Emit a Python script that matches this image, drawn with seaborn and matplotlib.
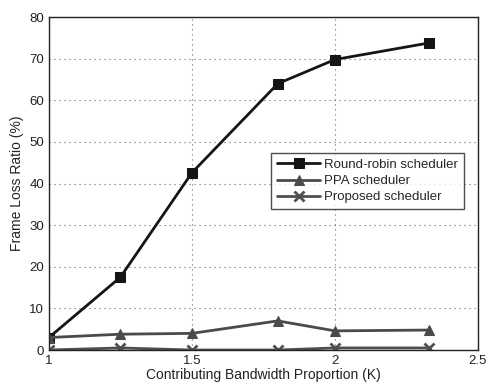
import matplotlib
matplotlib.use("Agg")
import matplotlib.pyplot as plt
import seaborn as sns
import pandas as pd

k_values = [1.0, 1.25, 1.5, 1.8, 2.0, 2.33]
round_robin = [3.0, 17.5, 42.6, 64.0, 69.8, 73.8]
ppa = [3.0, 3.8, 4.0, 7.0, 4.6, 4.8]
proposed = [0.0, 0.5, 0.0, 0.0, 0.5, 0.5]
series_names = ["Round-robin scheduler", "PPA scheduler", "Proposed scheduler"]

df = pd.DataFrame({
    "K": k_values * 3,
    "ratio": round_robin + ppa + proposed,
    "series": [series_names[0]] * len(k_values) + [series_names[1]] * len(k_values) + [series_names[2]] * len(k_values),
})

sns.set_style("white")
plt.rcParams['font.family'] = ['Liberation Sans', 'DejaVu Sans']

fig = plt.figure(figsize=(4.89, 3.84), dpi=100)
ax = fig.add_axes([0.100, 0.0885, 0.8775, 0.867])

palette = {series_names[0]: "#151515", series_names[1]: "#4a4a4a", series_names[2]: "#4f4f4f"}
markers = {series_names[0]: "s", series_names[1]: "^", series_names[2]: "X"}

sns.lineplot(data=df, x="K", y="ratio", hue="series", style="series",
             markers=markers, dashes=False, palette=palette, ax=ax,
             linewidth=2.0, markersize=6.5, legend=True)

def restyle(line, name):
    line.set_markeredgecolor(palette[name])
    line.set_markerfacecolor(palette[name])
    if name == series_names[2]:
        line.set_marker("x")
        line.set_markeredgewidth(2.0)
        line.set_markersize(7)

for line, name in zip(ax.lines, series_names):
    restyle(line, name)

ax.set_xlim(1, 2.5)
ax.set_ylim(0, 80)
ax.set_xticks([1, 1.5, 2, 2.5])
ax.set_xticklabels(["1", "1.5", "2", "2.5"])
ax.set_yticks(range(0, 81, 10))
ax.grid(True, linestyle=(0, (1, 3.5)), color="#666666", linewidth=0.8)
ax.tick_params(direction="in", labelsize=9.5, length=4, colors="#222222", width=0.8)
for s in ax.spines.values():
    s.set_color("#222222")
    s.set_linewidth(1.0)
ax.set_xlabel("Contributing Bandwidth Proportion (K)", fontsize=10, labelpad=1, color="#222222")
ax.set_ylabel("Frame Loss Ratio (%)", fontsize=10, labelpad=4, color="#222222")

handles, labels = ax.get_legend_handles_labels()
leg = ax.legend(handles, labels, loc="upper right", bbox_to_anchor=(0.968, 0.592),
                fontsize=9.5, frameon=True, fancybox=False, edgecolor="#222222",
                handlelength=3.3, borderpad=0.45, labelspacing=0.3, handletextpad=0.3,
                borderaxespad=0.0)
leg.get_frame().set_linewidth(1.0)
for h, name in zip(leg.legend_handles, series_names):
    restyle(h, name)

fig.savefig("out.png", dpi=100)
